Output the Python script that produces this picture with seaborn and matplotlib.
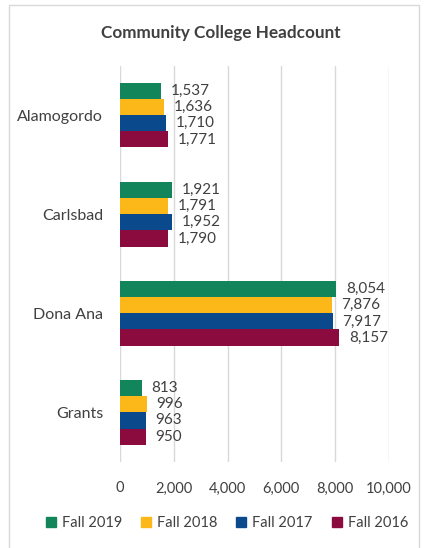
import matplotlib
matplotlib.use("Agg")
import matplotlib.pyplot as plt
import matplotlib.patches as mpatches
import seaborn as sns
import pandas as pd

colleges = ["Alamogordo", "Carlsbad", "Dona Ana", "Grants"]
terms = ["Fall 2019", "Fall 2018", "Fall 2017", "Fall 2016"]
fall_2019 = [1537, 1921, 8054, 813]
fall_2018 = [1636, 1791, 7876, 996]
fall_2017 = [1710, 1952, 7917, 963]
fall_2016 = [1771, 1790, 8157, 950]
colors = ["#12855A", "#FBB818", "#0A4A8C", "#8B0B3F"]
x_ticks = [0, 2000, 4000, 6000, 8000, 10000]

rows = []
for term, vals in zip(terms, [fall_2019, fall_2018, fall_2017, fall_2016]):
    for c, v in zip(colleges, vals):
        rows.append({"College": c, "Term": term, "Headcount": v})
df = pd.DataFrame(rows)

sns.set_theme(style="white")
plt.rcParams["font.family"] = ["Lato", "DejaVu Sans"]
text_color = "#404040"

fig = plt.figure(figsize=(4.24, 5.48), dpi=100)
ax = fig.add_axes([0.283, 0.157, 0.634, 0.723])

sns.barplot(data=df, y="College", x="Headcount", hue="Term", order=colleges,
            hue_order=terms, palette=colors, orient="h", width=0.65,
            saturation=1, linewidth=0, ax=ax, legend=False)

for cont in ax.containers:
    ax.bar_label(cont, labels=[f"{int(v):,}" for v in cont.datavalues],
                 padding=7, fontsize=11, color=text_color)

ax.set_xlim(0, 10000)
ax.set_ylim(3.5, -0.5)
ax.set_xticks(x_ticks)
ax.set_xticklabels([f"{t:,}" for t in x_ticks], fontsize=10.5, color=text_color)
ax.tick_params(axis="y", labelsize=11.5, labelcolor=text_color, pad=12, length=0)
ax.tick_params(axis="x", pad=14, length=0)
ax.set_xlabel("")
ax.set_ylabel("")
ax.grid(axis="x", color="#d9d9d9", linewidth=1)
ax.set_axisbelow(True)
for s in ax.spines.values():
    s.set_visible(False)

fig.text(0.52, 0.94, "Community College Headcount", ha="center", va="center",
         fontsize=12.3, fontweight="bold", color=text_color)

handles = [mpatches.Patch(color=c, label=t) for c, t in zip(colors, terms)]
fig.legend(handles=handles, loc="center", bbox_to_anchor=(0.535, 0.045), ncol=4,
           frameon=False, fontsize=10.5, handlelength=0.7, handleheight=0.7,
           handletextpad=0.4, columnspacing=1.3, labelcolor=text_color)

border = mpatches.Rectangle((0.022, -0.01), 0.966, 1.0, transform=fig.transFigure,
                            fill=False, edgecolor="#d9d9d9", linewidth=1)
fig.patches.append(border)

fig.savefig("out.png", dpi=100)
